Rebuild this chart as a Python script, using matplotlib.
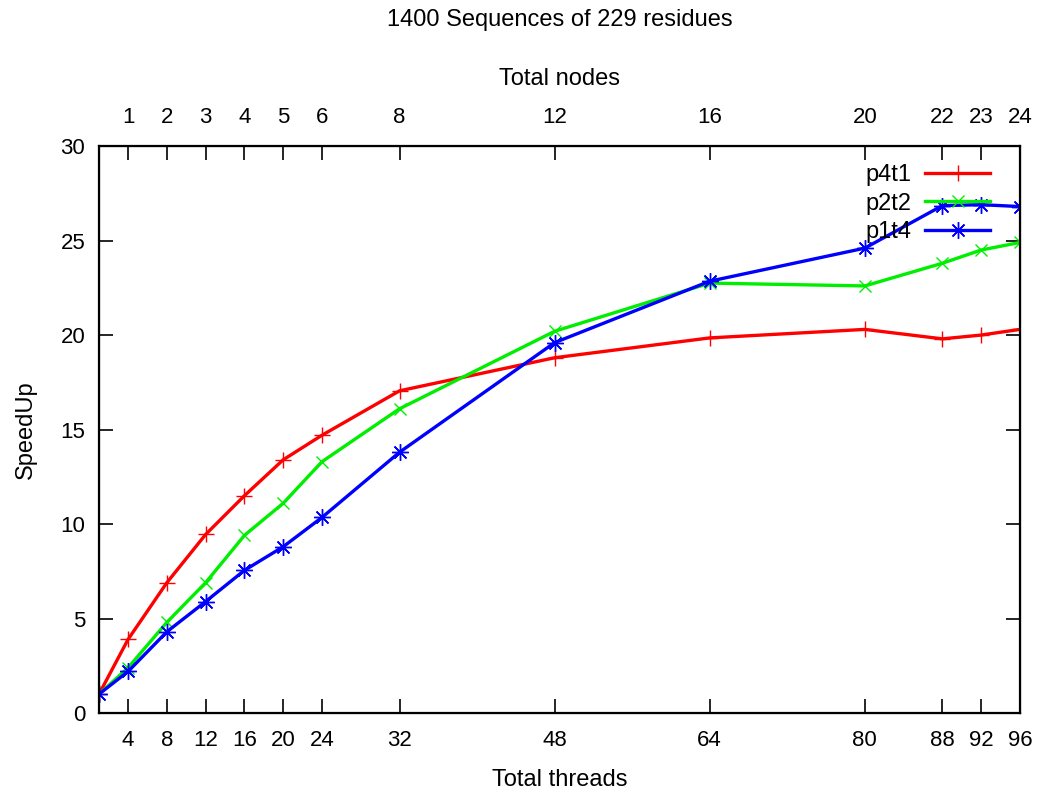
import matplotlib
matplotlib.use("Agg")
import matplotlib.pyplot as plt

plt.rcParams['font.family'] = ['Liberation Sans', 'DejaVu Sans']

# threads on the bottom axis, nodes on the top axis
threads = [1, 4, 8, 12, 16, 20, 24, 32, 48, 64, 80, 88, 92, 96]
thread_ticks = [4, 8, 12, 16, 20, 24, 32, 48, 64, 80, 88, 92, 96]
node_ticks = [1, 2, 3, 4, 5, 6, 8, 12, 16, 20, 22, 23, 24]

p4t1 = [1.0, 3.9, 6.9, 9.45, 11.5, 13.4, 14.7, 17.05, 18.8, 19.85, 20.3, 19.8, 20.0, 20.3]
p2t2 = [1.0, 2.4, 4.8, 6.9, 9.4, 11.1, 13.3, 16.1, 20.2, 22.75, 22.6, 23.8, 24.5, 24.9]
p1t4 = [1.0, 2.2, 4.3, 5.9, 7.55, 8.8, 10.35, 13.8, 19.6, 22.85, 24.6, 26.85, 26.9, 26.8]

fig = plt.figure(figsize=(10.37, 7.94), dpi=100)
ax = fig.add_axes([0.0955, 0.102, 0.888, 0.714])

ax.plot(threads, p4t1, color='#ff0000', lw=2.4, marker='+', ms=11, mew=1.0, label='p4t1')
ax.plot(threads, p2t2, color='#00ee00', lw=2.4, marker='x', ms=9, mew=1.0, label='p2t2')
ax.plot(threads, p1t4, color='#0000ff', lw=2.4, marker=(8, 2, 0), ms=12, mew=1.0, label='p1t4')

ax.set_xlim(1, 96)
ax.set_ylim(0, 30)
ax.set_xticks(thread_ticks)
ax.set_yticks(range(0, 31, 5))
ax.tick_params(direction='in', length=10, width=1.2, labelsize=16, right=True)
ax.tick_params(axis='x', pad=12)
ax.tick_params(axis='y', pad=10)
for s in ax.spines.values():
    s.set_linewidth(1.6)

ax.set_xlabel('Total threads', fontsize=17, labelpad=13)
ax.set_ylabel('SpeedUp', fontsize=17, labelpad=17)

top = ax.twiny()
top.set_xlim(1, 96)
top.set_xticks([4 * n for n in node_ticks])
top.set_xticklabels([str(n) for n in node_ticks])
top.tick_params(direction='in', length=10, width=1.2, labelsize=16, pad=13)
top.set_xlabel('Total nodes', fontsize=17, labelpad=16)

# title centred over the plot area
fig.text(0.5395, 0.975, '1400 Sequences of 229 residues', fontsize=17, ha='center', va='center')

ax.legend(loc='upper right', bbox_to_anchor=(0.978, 0.985), frameon=False, markerfirst=False,
          fontsize=17, handlelength=2.75, labelspacing=0.28, handletextpad=0.6, borderaxespad=0)

fig.savefig('out.png', dpi=100)
